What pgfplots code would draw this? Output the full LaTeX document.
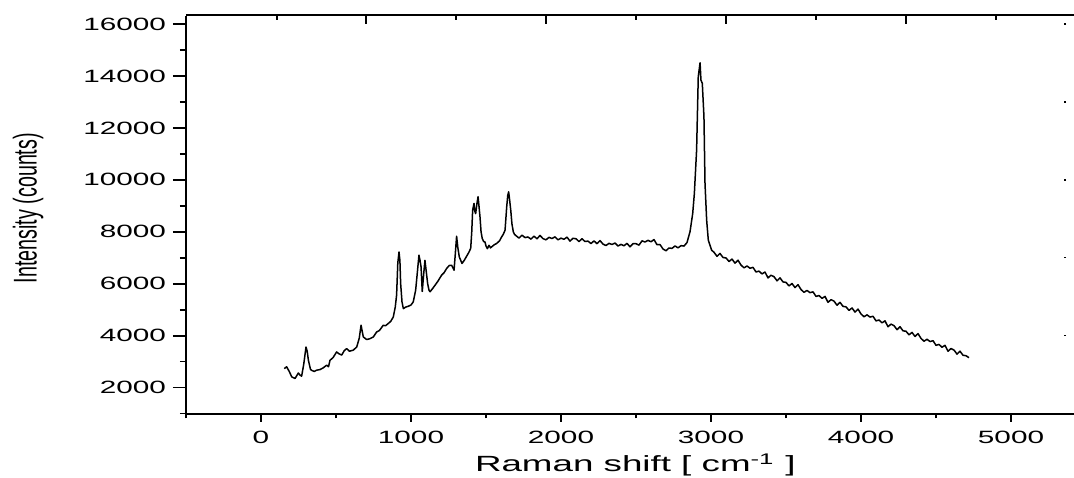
\documentclass[border=0pt]{standalone}
\usepackage{pgfplots}
\pgfplotsset{compat=1.18}
\usepackage{fontspec}
\setmainfont{Liberation Sans}
\usepackage{graphicx}
\newcommand\sx[1]{\scalebox{1.67}[1]{#1}}
\pgfplotsset{
  common/.style={
    scale only axis, width=444pt, height=199pt,
    xmin=-500, xmax=5420, ymin=1000, ymax=16330,
    every non boxed x axis/.append style={x axis line style=-},
    every non boxed y axis/.append style={y axis line style=-},
    axis line style={line width=1pt,-},
    tick style={black},
    scaled ticks=false,
  }
}
\begin{document}
\begin{tikzpicture}
% main axis: data + bottom x axis
\begin{axis}[common,
  axis x line*=bottom, axis y line=none,
  tick align=outside,
  major tick length=4.2pt, minor tick length=2.4pt,
  xtick={0,1000,2000,3000,4000,5000},
  xticklabels={\sx{0},\sx{1000},\sx{2000},\sx{3000},\sx{4000},\sx{5000}},
  minor xtick={-500,500,1500,2500,3500,4500},
  xtick style={line width=1.2pt},
  xticklabel style={font=\fontsize{8.9}{10}\selectfont, yshift=-1pt},
  xlabel={\sx{Raman shift [ cm\textsuperscript{-1} ]}},
  every axis x label/.style={at={(axis description cs:0.506,0)}, yshift=-25.75pt, anchor=center, font=\fontsize{11}{13}\selectfont},
]
\coordinate (sw) at (rel axis cs:0,0);
\coordinate (ne) at (rel axis cs:1,1);
\addplot[black, line width=0.75pt, line join=round] coordinates {
(155,2730) (171,2800) (190,2600) (205,2410) (227,2350) (249,2560) (260,2480) (271,2440)
(285,2900) (300,3560) (308,3400) (316,3050) (330,2700) (338,2660) (355,2620) (371,2670)
(393,2690) (415,2760) (438,2860) (450,2800) (460,3050) (480,3150) (504,3370) (520,3300)
(538,3250) (555,3420) (571,3500) (590,3400) (615,3440) (638,3560) (655,3900) (667,4400)
(682,3950) (704,3850) (725,3880) (749,3950) (771,4140) (790,4200) (815,4400) (830,4380)
(849,4470) (865,4550) (882,4720) (895,5100) (904,5560) (912,6800) (920,7220) (926,6900)
(931,6000) (940,5300) (949,5040) (965,5100) (982,5130) (1000,5180) (1015,5300) (1031,5750)
(1045,6600) (1053,7100) (1060,6900) (1067,6650) (1075,5700) (1085,6400) (1093,6900) (1101,6500)
(1111,6000) (1120,5750) (1127,5690) (1145,5820) (1160,5940) (1180,6100) (1204,6330) (1220,6420)
(1238,6590) (1255,6700) (1271,6710) (1287,6520) (1296,7200) (1304,7830) (1312,7400) (1322,7030)
(1340,6780) (1355,6900) (1371,7060) (1385,7200) (1398,7360) (1405,8000) (1411,8830) (1420,9090)
(1425,8800) (1431,8700) (1440,9100) (1447,9350) (1453,9000) (1460,8570) (1467,8000) (1475,7740)
(1485,7620) (1493,7610) (1500,7450) (1509,7350) (1520,7480) (1530,7380) (1538,7420) (1555,7500)
(1571,7550) (1590,7650) (1604,7800) (1615,7900) (1627,8060) (1638,8960) (1645,9400) (1651,9540)
(1658,9200) (1665,8830) (1673,8300) (1682,8000) (1690,7900)
(1700,7850) (1720,7755) (1740,7870) (1760,7775) (1780,7800) (1800,7715) (1820,7830) (1840,7730)
(1860,7860) (1880,7735) (1900,7690) (1920,7785) (1940,7740) (1960,7805) (1980,7690) (2000,7755)
(2020,7710) (2040,7795) (2060,7640) (2080,7750) (2100,7730) (2120,7625) (2140,7730) (2160,7625)
(2180,7640) (2200,7545) (2220,7650) (2240,7540) (2260,7660) (2280,7525) (2300,7470) (2320,7555)
(2340,7510) (2360,7565) (2380,7450) (2400,7515) (2420,7460) (2440,7555) (2460,7420) (2480,7540)
(2500,7540) (2520,7485) (2540,7650) (2560,7605) (2580,7670) (2600,7615) (2620,7700) (2640,7500)
(2660,7510) (2680,7335) (2700,7270) (2720,7375) (2740,7360) (2760,7455) (2780,7380) (2800,7465)
(2820,7450) (2840,7585) (2860,8000)
(2878,8705) (2889,9475) (2904,11144) (2915,13969) (2927,14510) (2933,13842) (2942,13715) (2953,12430)
(2960,9860) (2971,8447) (2982,7676) (3004,7290)
(3020,7211) (3040,7054) (3060,7166) (3080,7009) (3100,6992) (3120,6855) (3140,6948) (3160,6791)
(3180,6904) (3200,6717) (3220,6610) (3240,6683) (3260,6596) (3280,6629) (3300,6452) (3320,6484)
(3340,6377) (3360,6450) (3380,6223) (3400,6326) (3420,6269) (3440,6112) (3460,6225) (3480,6068)
(3500,6051) (3520,5914) (3540,6007) (3560,5850) (3580,5962) (3600,5775) (3620,5668) (3640,5741)
(3660,5654) (3680,5687) (3700,5510) (3720,5543) (3740,5436) (3760,5509) (3780,5282) (3800,5385)
(3820,5328) (3840,5170) (3860,5283) (3880,5126) (3900,5109) (3920,4972) (3940,5065) (3960,4908)
(3980,5021) (4000,4834) (4020,4727) (4040,4800) (4060,4713) (4080,4746) (4100,4568) (4120,4601)
(4140,4494) (4160,4567) (4180,4340) (4200,4443) (4220,4386) (4240,4229) (4260,4342) (4280,4185)
(4300,4168) (4320,4031) (4340,4124) (4360,3966) (4380,4079) (4400,3892) (4420,3785) (4440,3858)
(4460,3771) (4480,3804) (4500,3627) (4520,3660) (4540,3553) (4560,3626) (4580,3399) (4600,3502)
(4620,3444) (4640,3287) (4660,3400) (4680,3243) (4700,3226) (4720,3150)
};
\end{axis}
% left y axis
\begin{axis}[common,
  axis y line*=left, axis x line=none,
  tick align=outside,
  major tick length=6.5pt, minor tick length=3pt,
  ytick={2000,4000,6000,8000,10000,12000,14000,16000},
  yticklabels={\sx{2000},\sx{4000},\sx{6000},\sx{8000},\sx{10000},\sx{12000},\sx{14000},\sx{16000}},
  minor ytick={1000,3000,5000,7000,9000,11000,13000,15000},
  ytick style={line width=0.9pt},
  yticklabel style={font=\fontsize{8.9}{10}\selectfont},
  ylabel={\scalebox{1}[1.67]{Intensity (counts)}},
  every axis y label/.style={at={(axis description cs:0,0.516)}, xshift=-79pt, rotate=90, anchor=center, font=\fontsize{9.85}{12}\selectfont},
]
\end{axis}
% top x axis
\begin{axis}[common,
  axis x line*=top, axis y line=none,
  tick align=inside,
  major tick length=4.2pt, minor tick length=2.2pt,
  xtick={700,1900,3100,4300},
  minor xtick={107,1300,2500,3700,4900},
  xticklabels={},
  xtick style={line width=1.2pt},
]
\end{axis}
% right ticks
\begin{axis}[common, width=439.5pt,
  axis y line*=right, axis x line=none,
  y axis line style={draw=none},
  tick align=center,
  major tick length=1.2pt,
  ytick={4000,7000,10000,13000,16000},
  yticklabels={},
  ytick style={line width=0.75pt},
]
\end{axis}
\pgfresetboundingbox
\path[use as bounding box] ([shift={(-93pt,-31.75pt)}]sw) rectangle ([shift={(0pt,7.75pt)}]ne);
\end{tikzpicture}
\end{document}
